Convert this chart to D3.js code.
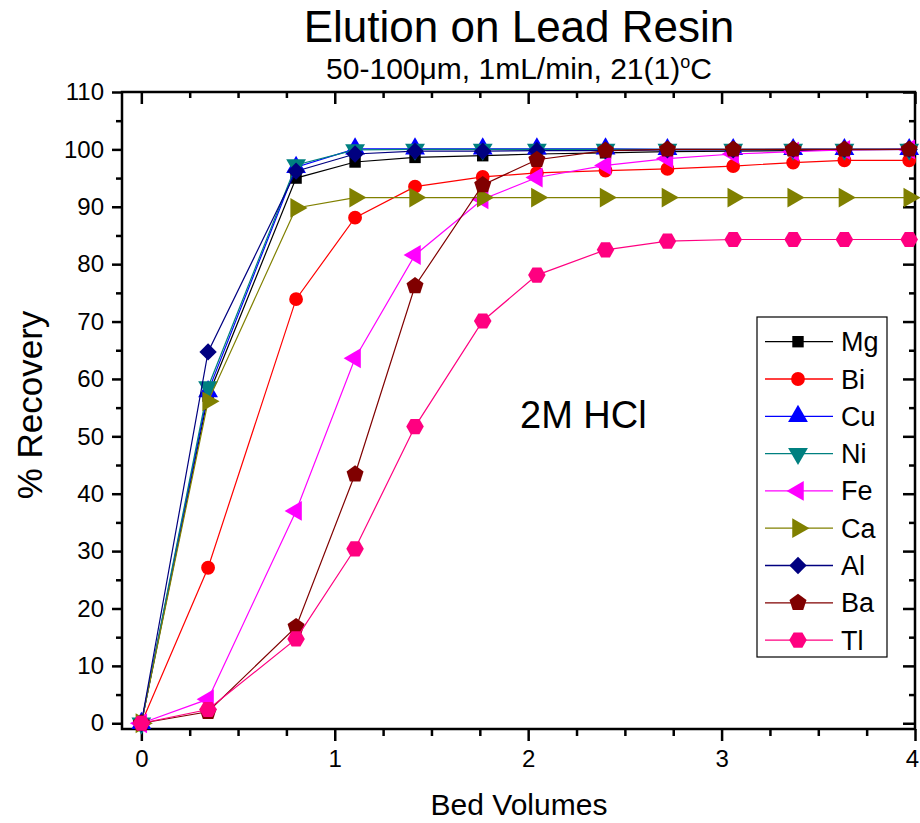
<!DOCTYPE html>
<html>
<head>
<meta charset="utf-8">
<script src="https://cdn.jsdelivr.net/npm/d3@7"></script>
<style>
  body { margin: 0; background: #fff; }
  text { font-family: "Liberation Sans", Arial, sans-serif; }
</style>
</head>
<body>
<svg id="chart" width="920" height="823"></svg>
<script>
// bed volume positions of each fraction
let bedVolumes = [0, 0.345, 0.80, 1.105, 1.415, 1.765, 2.045, 2.40, 2.72, 3.06, 3.37, 3.635, 3.97];

// % recovery per element
let mg = [0, 57.0, 95.0, 97.8, 98.6, 98.9, 99.2, 99.4, 99.6, 99.7, 99.8, 99.9, 100.0];
let bi = [0, 27.1, 73.9, 88.1, 93.5, 95.2, 95.9, 96.3, 96.6, 97.1, 97.7, 98.1, 98.1];
let cu = [0, 57.8, 96.9, 100.1, 100.1, 100.1, 100.1, 100.1, 100.0, 100.0, 100.0, 100.0, 100.0];
let ni = [0, 58.6, 97.3, 99.9, 100.0, 100.0, 100.0, 100.0, 100.0, 100.0, 100.0, 100.0, 100.0];
let fe = [0, 4.2, 37.0, 63.6, 81.6, 91.3, 95.1, 97.2, 98.4, 99.2, 99.6, 99.9, 100.0];
let ca = [0, 56.1, 89.8, 91.6, 91.6, 91.6, 91.6, 91.6, 91.6, 91.6, 91.6, 91.6, 91.6];
let al = [0, 64.7, 96.2, 99.2, 99.7, 99.7, 99.8, 99.8, 99.9, 99.9, 100.0, 100.0, 100.0];
let ba = [0, 2.0, 16.8, 43.4, 76.2, 93.8, 98.2, 99.8, 100.0, 100.0, 100.0, 100.0, 100.0];
let tl = [0, 2.4, 14.7, 30.4, 51.7, 70.1, 78.1, 82.5, 84.0, 84.3, 84.3, 84.3, 84.3];

let elements = ['Mg', 'Bi', 'Cu', 'Ni', 'Fe', 'Ca', 'Al', 'Ba', 'Tl'];
let values = [mg, bi, cu, ni, fe, ca, al, ba, tl];

let xTicks = [0, 1, 2, 3, 4];
let yTicks = [0, 10, 20, 30, 40, 50, 60, 70, 80, 90, 100, 110];

// marker look for each series
let colors = ['#000000', '#ff0000', '#0000ff', '#008080', '#ff00ff', '#808000', '#000080', '#800000', '#ff0080'];

// custom polygon symbols (pentagon, hexagon)
function polygon(n, offset) {
	return {
		draw(ctx, size) {
			let r = Math.sqrt(size / (0.5 * n * Math.sin(2 * Math.PI / n)));
			for (let i = 0; i < n; i++) {
				let a = offset + i * 2 * Math.PI / n;
				if (i === 0) ctx.moveTo(r * Math.sin(a), -r * Math.cos(a));
				else ctx.lineTo(r * Math.sin(a), -r * Math.cos(a));
			}
			ctx.closePath();
		}
	};
}
let pentagon = polygon(5, 0);
let hexagon = polygon(6, Math.PI / 6);

// [symbol type, size, rotation]
let markers = [
	[d3.symbolSquare, 130, 0],
	[d3.symbolCircle, 150, 0],
	[d3.symbolTriangle, 170, 0],
	[d3.symbolTriangle, 170, 180],
	[d3.symbolTriangle, 170, -90],
	[d3.symbolTriangle, 170, 90],
	[d3.symbolSquare, 150, 45],
	[pentagon, 190, 0],
	[hexagon, 200, 0]
];

let svg = d3.select('#chart');
let plotLeft = 122, plotRight = 915, plotTop = 92, plotBottom = 729;

let xScale = d3.scaleLinear().domain([-0.1, 4]).range([plotLeft, plotRight]);
let yScale = d3.scaleLinear().domain([-1, 110]).range([plotBottom, plotTop]);

let xMinor = d3.range(0, 4.01, 0.25).filter((d) => d % 1 !== 0);
let yMinor = d3.range(5, 110, 10);

// axes: left & bottom outward, top & right inward
function styleAxis(g, fontSize) {
	g.select('.domain').remove();
	g.selectAll('line').attr('stroke', '#000').attr('stroke-width', 2.5);
	g.selectAll('text').style('font-size', fontSize + 'px').attr('fill', '#000');
}

svg.append('g').attr('transform', 'translate(0,' + plotBottom + ')')
	.call(d3.axisBottom(xScale).tickValues(xTicks).tickSize(12).tickPadding(9).tickFormat(d3.format('d')))
	.call((g) => styleAxis(g, 24))
	.call((g) => g.selectAll('text').filter((d) => d === 4).attr('dx', -3));
svg.append('g').attr('transform', 'translate(0,' + plotBottom + ')')
	.call(d3.axisBottom(xScale).tickValues(xMinor).tickSize(7).tickFormat(''))
	.call((g) => styleAxis(g, 24));
svg.append('g').attr('transform', 'translate(' + plotLeft + ',0)')
	.call(d3.axisLeft(yScale).tickValues(yTicks).tickSize(10).tickPadding(8))
	.call((g) => styleAxis(g, 24));
svg.append('g').attr('transform', 'translate(' + plotLeft + ',0)')
	.call(d3.axisLeft(yScale).tickValues(yMinor).tickSize(6).tickFormat(''))
	.call((g) => styleAxis(g, 24));
svg.append('g').attr('transform', 'translate(0,' + plotTop + ')')
	.call(d3.axisBottom(xScale).tickValues(xTicks).tickSize(12).tickFormat(''))
	.call((g) => styleAxis(g, 24));
svg.append('g').attr('transform', 'translate(0,' + plotTop + ')')
	.call(d3.axisBottom(xScale).tickValues(xMinor).tickSize(6).tickFormat(''))
	.call((g) => styleAxis(g, 24));
svg.append('g').attr('transform', 'translate(' + plotRight + ',0)')
	.call(d3.axisLeft(yScale).tickValues(yTicks).tickSize(12).tickFormat(''))
	.call((g) => styleAxis(g, 24));
svg.append('g').attr('transform', 'translate(' + plotRight + ',0)')
	.call(d3.axisLeft(yScale).tickValues(yMinor).tickSize(6).tickFormat(''))
	.call((g) => styleAxis(g, 24));

// frame
svg.append('rect').attr('x', plotLeft).attr('y', plotTop).attr('width', plotRight - plotLeft).attr('height', plotBottom - plotTop)
	.attr('fill', 'none').attr('stroke', '#000').attr('stroke-width', 2.5);

// series
let line = d3.line().x((d) => xScale(d[0])).y((d) => yScale(d[1]));
let symbolPath = (i) => d3.symbol().type(markers[i][0]).size(markers[i][1])();

elements.forEach((el, i) => {
	let pts = bedVolumes.map((x, j) => [x, values[i][j]]);
	let g = svg.append('g');
	g.append('path').datum(pts).attr('d', line).attr('fill', 'none').attr('stroke', colors[i]).attr('stroke-width', 1.2);
	g.selectAll('path.mark').data(pts).enter().append('path').classed('mark', true)
		.attr('d', symbolPath(i))
		.attr('transform', (d) => 'translate(' + xScale(d[0]) + ',' + yScale(d[1]) + ') rotate(' + markers[i][2] + ')')
		.attr('fill', colors[i]);
});

// legend
let legend = svg.append('g');
legend.append('rect').attr('x', 757).attr('y', 317).attr('width', 130).attr('height', 340)
	.attr('fill', '#fff').attr('stroke', '#000').attr('stroke-width', 1.2);
elements.forEach((el, i) => {
	let ly = 341.7 + i * 37.3;
	legend.append('line').attr('x1', 765).attr('x2', 833).attr('y1', ly).attr('y2', ly)
		.attr('stroke', colors[i]).attr('stroke-width', 1.3);
	legend.append('path').attr('d', symbolPath(i))
		.attr('transform', 'translate(798,' + ly + ') rotate(' + markers[i][2] + ')')
		.attr('fill', colors[i]);
	legend.append('text').attr('x', 841).attr('y', ly + 9.5).style('font-size', '27px').text(el);
});

// titles and labels
svg.append('text').attr('x', 519).attr('y', 42).attr('text-anchor', 'middle').style('font-size', '44px').text('Elution on Lead Resin');
let sub = svg.append('text').attr('x', 519).attr('y', 79).attr('text-anchor', 'middle').style('font-size', '30px');
sub.append('tspan').text('50-100\u03bcm, 1mL/min, 21(1)');
sub.append('tspan').attr('dy', -11).style('font-size', '18px').text('o');
sub.append('tspan').attr('dy', 11).text('C');

svg.append('text').attr('x', 519).attr('y', 815).attr('text-anchor', 'middle').style('font-size', '30px').text('Bed Volumes');
svg.append('text').attr('transform', 'translate(42,405) rotate(-90)').attr('text-anchor', 'middle').style('font-size', '35px').text('% Recovery');
svg.append('text').attr('x', 520).attr('y', 428).style('font-size', '38px').text('2M HCl');
</script>
</body>
</html>
